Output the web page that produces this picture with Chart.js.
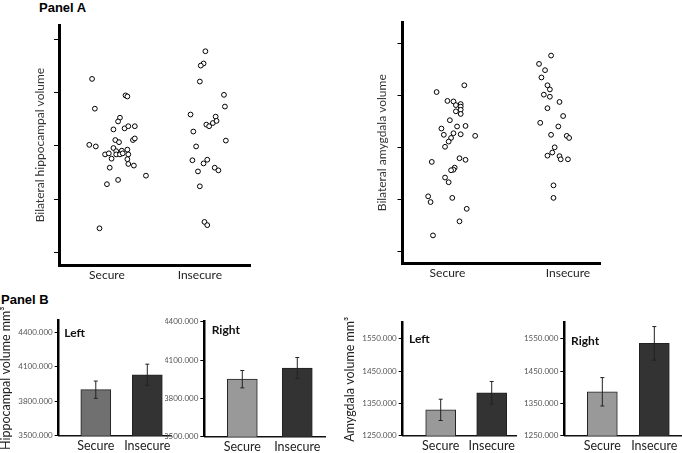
<!DOCTYPE html>
<html>
<head>
<meta charset="utf-8">
<script src="https://cdn.jsdelivr.net/npm/chart.js@4.4.0/dist/chart.umd.min.js"></script>
<style>
  body { margin: 0; background: #fff; }
  #page { position: relative; width: 682px; height: 453px; overflow: hidden; background: #fff; }
  canvas { position: absolute; }
  .panel { position: absolute; font: bold 13px "Liberation Sans", Arial, sans-serif; color: #000; white-space: nowrap; }
</style>
</head>
<body>
<div id="page">
  <div class="panel" style="left:39px; top:0px;">Panel A</div>
  <div class="panel" style="left:1px; top:292px;">Panel B</div>
  <canvas id="hippoScatter"></canvas>
  <canvas id="amygScatter"></canvas>
  <canvas id="hippoLeft"></canvas>
  <canvas id="hippoRight"></canvas>
  <canvas id="amygLeft"></canvas>
  <canvas id="amygRight"></canvas>
</div>
<script>
const groups = ['Secure', 'Insecure'];

// Panel A: one point per subject, [jittered group position, volume (unlabelled axis units)]
const hippoSecure = [
  [0.84, 3.26], [1.20, 2.95], [1.22, 2.93], [0.87, 2.70], [1.14, 2.53], [1.12, 2.46],
  [1.07, 2.31], [1.19, 2.33], [1.23, 2.37], [1.30, 2.37], [1.09, 2.11], [1.13, 2.07],
  [1.28, 2.11], [1.30, 2.14], [0.81, 2.02], [0.88, 1.99], [1.07, 1.96], [1.10, 1.90],
  [1.16, 1.91], [1.22, 1.93], [0.98, 1.84], [1.02, 1.86], [1.10, 1.84], [1.14, 1.84],
  [1.17, 1.86], [1.23, 1.84], [1.05, 1.76], [1.22, 1.75], [1.23, 1.66], [1.29, 1.63],
  [1.03, 1.59], [1.42, 1.44], [1.12, 1.36], [1.00, 1.28], [0.92, 0.45]
];
const hippoInsecure = [
  [2.06, 3.78], [2.04, 3.55], [2.01, 3.51], [2.00, 3.21], [2.26, 2.96], [2.27, 2.74],
  [1.90, 2.59], [2.17, 2.55], [2.07, 2.40], [2.10, 2.37], [2.14, 2.43], [2.18, 2.47],
  [1.93, 2.27], [2.28, 2.10], [1.96, 1.99], [1.92, 1.73], [2.04, 1.67], [2.08, 1.74],
  [1.98, 1.52], [2.16, 1.59], [2.20, 1.54], [2.00, 1.24], [2.05, 0.57], [2.08, 0.51]
];
const amygSecure = [
  [1.14, 3.19], [0.91, 3.06], [1.00, 2.89], [1.05, 2.88], [1.07, 2.81], [1.11, 2.83],
  [1.11, 2.78], [1.07, 2.69], [1.11, 2.72], [1.11, 2.64], [1.02, 2.52], [0.95, 2.36],
  [1.15, 2.41], [1.08, 2.40], [0.97, 2.24], [1.05, 2.27], [1.11, 2.25], [1.23, 2.22],
  [1.03, 2.18], [1.01, 2.11], [0.98, 2.01], [0.87, 1.72], [1.10, 1.79], [1.15, 1.76],
  [1.06, 1.61], [1.05, 1.57], [1.03, 1.56], [0.98, 1.42], [1.01, 1.33], [0.84, 1.06],
  [0.86, 0.95], [1.04, 1.03], [1.16, 0.82], [1.10, 0.58], [0.88, 0.31]
];
const amygInsecure = [
  [1.86, 3.76], [1.76, 3.60], [1.81, 3.48], [1.78, 3.34], [1.83, 3.19], [1.85, 3.11],
  [1.80, 3.01], [1.85, 2.97], [1.93, 2.87], [1.83, 2.75], [1.96, 2.60], [1.77, 2.47],
  [1.92, 2.40], [1.86, 2.24], [1.99, 2.22], [2.01, 2.18], [1.89, 2.00], [1.87, 1.90],
  [1.83, 1.84], [1.93, 1.83], [1.94, 1.77], [2.00, 1.77], [1.88, 1.27], [1.88, 1.03]
];
const scatterTicks = [0, 1, 2, 3, 4];

// Panel B: group means (mm3) and error bar half-lengths
const hippoLeftMeans = [3900, 4030];
const hippoLeftErr = [75, 92];
const hippoRightMeans = [3950, 4038];
const hippoRightErr = [68, 82];
const amygLeftMeans = [1330, 1383];
const amygLeftErr = [33, 35];
const amygRightMeans = [1386, 1536];
const amygRightErr = [44, 52];
const hippoTicks = [3500, 3800, 4100, 4400];
const amygTicks = [1250, 1350, 1450, 1550];

Chart.defaults.font.family = 'Lato, "Open Sans", sans-serif';
Chart.defaults.color = '#333';

function place(id, box) {
  const c = document.getElementById(id);
  c.width = box.w;
  c.height = box.h;
  c.style.left = box.x + 'px';
  c.style.top = box.y + 'px';
  c.style.width = box.w + 'px';
  c.style.height = box.h + 'px';
  return c;
}

function areaPadding(box, area) {
  return { left: 0, top: area.t - box.y, right: box.x + box.w - area.r, bottom: 0 };
}

const pointStyle = {
  pointRadius: 2.4,
  pointBorderWidth: 1,
  pointBorderColor: '#000',
  pointBackgroundColor: '#fff'
};

function scatterChart(id, box, area, secure, insecure, yTitle, xRange, yRange, titlePad) {
  const c = place(id, box);
  return new Chart(c, {
    type: 'scatter',
    data: {
      datasets: [
        { data: secure.map(([x, y]) => ({ x, y })), ...pointStyle },
        { data: insecure.map(([x, y]) => ({ x, y })), ...pointStyle }
      ]
    },
    options: {
      responsive: false,
      animation: false,
      layout: { padding: areaPadding(box, area) },
      plugins: { legend: { display: false }, tooltip: { enabled: false } },
      scales: {
        x: {
          type: 'linear', min: xRange[0], max: xRange[1],
          afterBuildTicks: s => { s.ticks = [1, 2].map(v => ({ value: v })); },
          afterFit: s => { s.height = box.y + box.h - area.b; },
          grid: { drawOnChartArea: false, drawTicks: false },
          border: { color: '#000', width: 3 },
          ticks: { callback: v => groups[v - 1], padding: 3, font: { size: 12 }, color: '#222', maxRotation: 0, autoSkip: false }
        },
        y: {
          min: yRange[0], max: yRange[1],
          afterBuildTicks: s => { s.ticks = scatterTicks.map(v => ({ value: v })); },
          afterFit: s => { s.width = area.l - box.x; },
          grid: { drawOnChartArea: false, tickLength: 5, color: '#000' },
          border: { color: '#000', width: 3 },
          ticks: { callback: () => '' },
          title: { display: true, text: yTitle, font: { size: 12 }, color: '#333', padding: { top: titlePad, bottom: 0 } }
        }
      }
    }
  });
}

function errorBars(errs) {
  return {
    id: 'errorBars',
    afterDatasetsDraw(chart) {
      const ctx = chart.ctx;
      const y = chart.scales.y;
      const means = chart.data.datasets[0].data.map(d => d.y);
      ctx.save();
      ctx.strokeStyle = '#222';
      ctx.lineWidth = 1;
      chart.getDatasetMeta(0).data.forEach((bar, i) => {
        const top = y.getPixelForValue(means[i] + errs[i]);
        const bot = y.getPixelForValue(means[i] - errs[i]);
        ctx.beginPath();
        ctx.moveTo(bar.x, top); ctx.lineTo(bar.x, bot);
        ctx.moveTo(bar.x - 2, top); ctx.lineTo(bar.x + 2, top);
        ctx.moveTo(bar.x - 2, bot); ctx.lineTo(bar.x + 2, bot);
        ctx.stroke();
      });
      ctx.restore();
    }
  };
}

function cornerLabel(text, dx, dy) {
  return {
    id: 'cornerLabel',
    afterDraw(chart) {
      const ctx = chart.ctx;
      ctx.save();
      ctx.font = 'bold 12px Lato, sans-serif';
      ctx.fillStyle = '#111';
      ctx.textBaseline = 'middle';
      ctx.fillText(text, chart.chartArea.left + dx, chart.chartArea.top + dy);
      ctx.restore();
    }
  };
}

function barChart(id, box, area, means, errs, colors, yRange, yTicks, xRange, yTitle, titlePad, label) {
  const c = place(id, box);
  return new Chart(c, {
    type: 'bar',
    data: {
      datasets: [{
        data: means.map((v, i) => ({ x: i + 1, y: v })),
        backgroundColor: colors,
        borderColor: '#222',
        borderWidth: 1,
        barThickness: 30
      }]
    },
    options: {
      responsive: false,
      animation: false,
      layout: { padding: areaPadding(box, area) },
      plugins: { legend: { display: false }, tooltip: { enabled: false } },
      scales: {
        x: {
          type: 'linear', offset: false, min: xRange[0], max: xRange[1],
          afterBuildTicks: s => { s.ticks = [1, 2].map(v => ({ value: v })); },
          afterFit: s => { s.height = box.y + box.h - area.b; },
          grid: { drawOnChartArea: false, drawTicks: false },
          border: { color: '#111', width: 1.5 },
          ticks: { callback: v => groups[v - 1], padding: 3, font: { size: 12.5 }, color: '#222', maxRotation: 0, autoSkip: false }
        },
        y: {
          min: yRange[0], max: yRange[1],
          afterBuildTicks: s => { s.ticks = yTicks.map(v => ({ value: v })); },
          afterFit: s => { s.width = area.l - box.x; },
          grid: { drawOnChartArea: false, tickLength: 4, color: '#000' },
          border: { color: '#000', width: 2.5 },
          ticks: { callback: v => v.toFixed(3), padding: 2, font: { size: 8 }, color: '#555' },
          title: { display: !!yTitle, text: yTitle || '', font: { size: 12.5, lineHeight: 1 }, color: '#222', padding: { top: titlePad, bottom: 0 } }
        }
      }
    },
    plugins: [errorBars(errs), cornerLabel(label.text, label.dx, label.dy)]
  });
}

scatterChart('hippoScatter',
  { x: 20, y: 15, w: 240, h: 270 }, { l: 59, t: 24, r: 250, b: 265 },
  hippoSecure, hippoInsecure, 'Bilateral hippocampal volume',
  [0.484, 2.54], [-0.24, 4.27], 13);

scatterChart('amygScatter',
  { x: 360, y: 12, w: 255, h: 273 }, { l: 402.5, t: 21, r: 600, b: 263.3 },
  amygSecure, amygInsecure, 'Bilateral amygdala volume',
  [0.627, 2.266], [-0.225, 4.40], 15);

barChart('hippoLeft',
  { x: 0, y: 300, w: 175, h: 153 }, { l: 58.7, t: 320.7, r: 171, b: 435.7 },
  hippoLeftMeans, hippoLeftErr, ['#707070', '#333333'],
  [3500, 4500], hippoTicks, [0.28, 2.46], 'Hippocampal volume mm³', 0,
  { text: 'Left', dx: 5.6, dy: 12 });

barChart('hippoRight',
  { x: 165, y: 312, w: 165, h: 141 }, { l: 204.3, t: 321.7, r: 325, b: 436.7 },
  hippoRightMeans, hippoRightErr, ['#999999', '#333333'],
  [3500, 4400], hippoTicks, [0.309, 2.504], '', 0,
  { text: 'Right', dx: 7.4, dy: 8.5 });

barChart('amygLeft',
  { x: 340, y: 312, w: 180, h: 141 }, { l: 402.7, t: 322.7, r: 516.7, b: 435.7 },
  amygLeftMeans, amygLeftErr, ['#999999', '#333333'],
  [1250, 1600], amygTicks, [0.255, 2.49], 'Amygdala volume mm³', 3.5,
  { text: 'Left', dx: 6.3, dy: 16.3 });

barChart('amygRight',
  { x: 520, y: 312, w: 162, h: 141 }, { l: 564.3, t: 322.7, r: 681, b: 435.7 },
  amygRightMeans, amygRightErr, ['#999999', '#333333'],
  [1250, 1600], amygTicks, [0.269, 2.513], '', 0,
  { text: 'Right', dx: 6.7, dy: 18 });
</script>
</body>
</html>
